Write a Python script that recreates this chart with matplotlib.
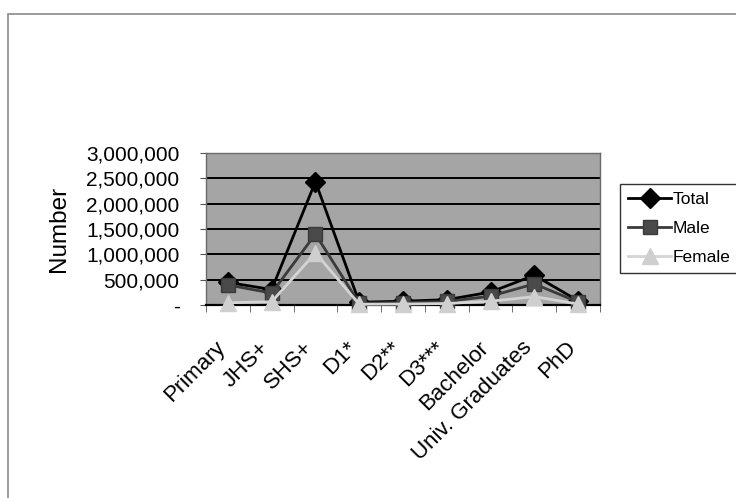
import matplotlib.pyplot as plt
from matplotlib.patches import Rectangle
from matplotlib.ticker import FuncFormatter
from matplotlib.transforms import ScaledTranslation

plt.rcParams['font.family'] = ['Liberation Sans', 'DejaVu Sans']

levels = ["Primary", "JHS+", "SHS+", "D1*", "D2**", "D3***",
          "Bachelor", "Univ. Graduates", "PhD"]
total = [450000, 310000, 2430000, 60000, 80000, 110000, 260000, 590000, 90000]
male = [400000, 240000, 1400000, 40000, 55000, 75000, 180000, 420000, 65000]
female = [50000, 70000, 1030000, 20000, 25000, 35000, 80000, 170000, 25000]

fig = plt.figure(figsize=(7.36, 4.98), dpi=100)
ax = fig.add_axes([206 / 736, 1 - 305.3 / 498, 394 / 736, 152.6 / 498])
ax.set_facecolor('#a5a5a5')

x = range(len(levels))
ax.plot(x, total, color='black', lw=2, marker='D', ms=10,
        mfc='black', mec='black', label='Total', clip_on=False, zorder=3)
ax.plot(x, male, color='#3a3a3a', lw=2, marker='s', ms=10,
        mfc='#4a4a4a', mec='#3a3a3a', label='Male', clip_on=False, zorder=4)
ax.plot(x, female, color='#d4d4d4', lw=2, marker='^', ms=12,
        mfc='#cfcfcf', mec='#cfcfcf', label='Female', clip_on=False, zorder=5)

ax.set_xlim(-0.5, len(levels) - 0.5)
ax.set_ylim(0, 3000000)
ax.set_yticks(range(0, 3000001, 500000))
ax.yaxis.set_major_formatter(FuncFormatter(lambda v, p: '-' if v == 0 else f'{int(v):,}'))
ax.grid(axis='y', color='black', lw=1.4)
ax.set_axisbelow(True)

# labels centred on categories, tick marks between them
ax.set_xticks(list(x))
ax.set_xticklabels(levels, rotation=45, ha='right', va='top', rotation_mode='anchor')
ax.set_xticks([i - 0.5 for i in range(len(levels) + 1)], minor=True)
ax.tick_params(axis='x', which='major', length=0, pad=23, labelsize=16)
ax.tick_params(axis='x', which='minor', length=5, color='#555555', direction='out')
ax.tick_params(axis='y', length=4, color='#555555', labelsize=15, pad=15)
shift = ScaledTranslation(-13 / 100, 0, fig.dpi_scale_trans)
for lab in ax.get_xticklabels():
    lab.set_transform(lab.get_transform() + shift)

for s in ax.spines.values():
    s.set_color('#6a6a6a')
    s.set_linewidth(1)
ax.spines['bottom'].set_color('black')
ax.spines['bottom'].set_linewidth(1.6)

ax.set_ylabel('Number', fontsize=17.5)
ax.yaxis.set_label_coords(-0.345, 0.5)

leg = fig.legend(loc='upper left', bbox_to_anchor=(620 / 736, 1 - 184 / 498),
                 borderaxespad=0, frameon=True, fancybox=False, fontsize=12.5,
                 handlelength=2.5, handletextpad=0.1, labelspacing=0.8,
                 borderpad=0.45)
leg.get_frame().set_edgecolor('black')
leg.get_frame().set_linewidth(1)

# chart border
fig.patches.append(Rectangle((8 / 736, -0.1), 1.2, 1.072, transform=fig.transFigure,
                             fill=False, edgecolor='#8a8a8a', lw=1.2))

fig.savefig('out.png', dpi=100)
